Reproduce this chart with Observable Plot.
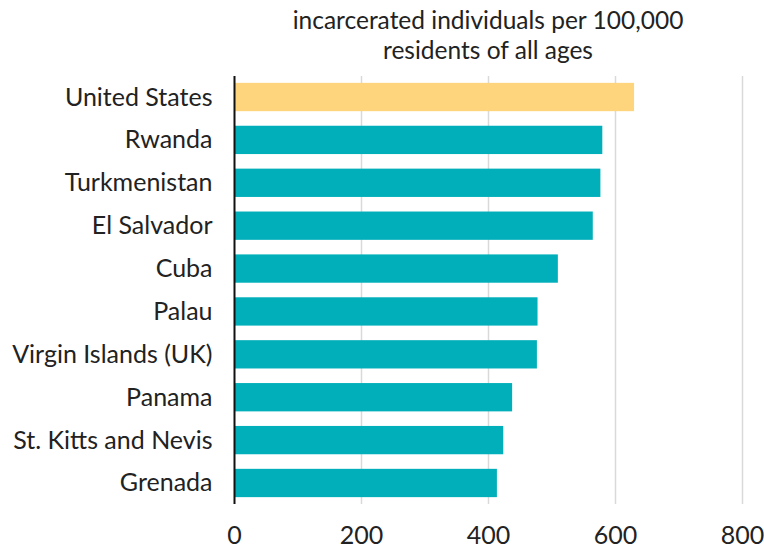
<!DOCTYPE html>
<html>
<head>
<meta charset="utf-8">
<script src="https://cdn.jsdelivr.net/npm/d3@7"></script>
<script src="https://cdn.jsdelivr.net/npm/@observablehq/plot@0.6"></script>
<style>
  html, body { margin: 0; padding: 0; background: #fff; }
  #wrap { position: relative; width: 764px; height: 548px; font-family: Lato, sans-serif; }
  #title { position: absolute; left: 234px; width: 508px; top: 5px; text-align: center;
           font-size: 24.5px; line-height: 30px; color: #222; }
</style>
</head>
<body>
<div id="wrap">
  <div id="title">incarcerated individuals per 100,000<br>residents of all ages</div>
</div>
<script>
const countries = ["United States", "Rwanda", "Turkmenistan", "El Salvador", "Cuba", "Palau",
  "Virgin Islands (UK)", "Panama", "St. Kitts and Nevis", "Grenada"];
const rates = [630, 580, 577, 565, 510, 478, 477, 438, 424, 414];
const xTicks = [0, 200, 400, 600, 800];
const highlight = "United States";

const data = countries.map((c, i) => ({country: c, rate: rates[i]}));

const chart = Plot.plot({
  width: 764,
  height: 548,
  marginTop: 76,
  marginBottom: 44,
  marginLeft: 234,
  marginRight: 22,
  style: {fontFamily: "Lato, sans-serif", fontSize: "25px", color: "#222", background: "#fff"},
  x: {domain: [0, 800], ticks: xTicks, label: null},
  y: {domain: countries, paddingInner: 0.34, paddingOuter: 0.16, round: false, label: null},
  marks: [
    Plot.gridX(xTicks.filter(d => d > 0), {stroke: "#d9d9d9", strokeOpacity: 1, strokeWidth: 1.5}),
    Plot.barX(data, {x: "rate", y: "country", fill: d => d.country === highlight ? "#FED47C" : "#00AFBA"}),
    Plot.ruleX([0], {stroke: "#111", strokeWidth: 2}),
    Plot.axisY({tickSize: 0, tickPadding: 22, fontSize: 25}),
    Plot.axisX({ticks: xTicks, tickSize: 0, tickPadding: 22, fontSize: 25})
  ]
});
document.getElementById("wrap").appendChild(chart);
</script>
</body>
</html>
